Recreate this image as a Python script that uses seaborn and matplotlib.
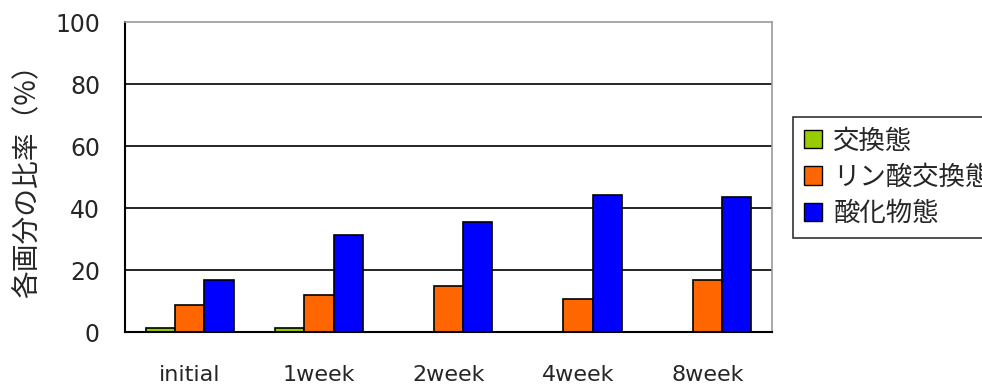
import matplotlib
matplotlib.use("Agg")
import matplotlib.pyplot as plt
import seaborn as sns
import pandas as pd
from matplotlib.patches import Patch

categories = ["initial", "1week", "2week", "4week", "8week"]
series_names = ["交換態", "リン酸交換態", "酸化物態"]
exchangeable = [1.2, 1.2, 0.0, 0.0, 0.0]
phosphate_exchangeable = [8.7, 11.9, 14.8, 10.5, 16.8]
oxide = [16.8, 31.3, 35.5, 44.3, 43.6]
y_ticks = [0, 20, 40, 60, 80, 100]
colors = ["#99CC00", "#FF6600", "#0000FF"]

rows = []
for name, vals in zip(series_names, [exchangeable, phosphate_exchangeable, oxide]):
    for cat, v in zip(categories, vals):
        rows.append({"period": cat, "fraction": name, "value": v})
df = pd.DataFrame(rows)

sns.set_style("white")
plt.rcParams["font.family"] = ["Noto Sans CJK JP", "DejaVu Sans"]
latin = ["DejaVu Sans"]

fig = plt.figure(figsize=(9.82, 3.85), dpi=100)
ax = fig.add_axes([125 / 982, 53 / 385, 647 / 982, 310 / 385])

sns.barplot(data=df, x="period", y="value", hue="fraction", order=categories,
            hue_order=series_names, palette=colors, width=0.68,
            edgecolor="black", linewidth=1.2, saturation=1, ax=ax, legend=False)

ax.set_ylim(0, 100)
ax.set_xlim(-0.5, len(categories) - 0.5)
ax.set_yticks(y_ticks)
ax.set_yticklabels([str(t) for t in y_ticks], fontsize=17, family=latin)
for t in y_ticks[1:-1]:
    ax.axhline(t, color="black", linewidth=1.2, zorder=0)

ax.set_xticks(range(len(categories)))
ax.set_xticklabels(categories, fontsize=16, family=latin)
ax.set_xticks([i - 0.5 for i in range(len(categories) + 1)], minor=True)
ax.tick_params(axis="x", which="major", length=0, pad=24)
ax.tick_params(axis="x", which="minor", direction="in", length=6, width=1.2, color="black")
ax.tick_params(axis="y", which="major", direction="in", length=6, width=1.2, color="black", pad=18)

ax.set_xlabel("")
ax.set_ylabel("各画分の比率（%）", fontsize=20)
ax.yaxis.set_label_coords(-0.128, 0.51)

for side in ["left", "bottom"]:
    ax.spines[side].set_color("black")
    ax.spines[side].set_linewidth(1.5)
for side in ["top", "right"]:
    ax.spines[side].set_color("#999999")
    ax.spines[side].set_linewidth(1.2)

handles = [Patch(facecolor=c, edgecolor="black", linewidth=1.0) for c in colors]
leg = fig.legend(handles, series_names, loc="upper left",
                 bbox_to_anchor=(793 / 982, 1 - 117 / 385), fontsize=19,
                 frameon=True, fancybox=False, borderpad=0.4, labelspacing=0.35,
                 handlelength=0.68, handleheight=0.68, handletextpad=0.45,
                 borderaxespad=0)
leg.get_frame().set_edgecolor("black")
leg.get_frame().set_linewidth(1.2)

fig.savefig("out.png", dpi=100)
